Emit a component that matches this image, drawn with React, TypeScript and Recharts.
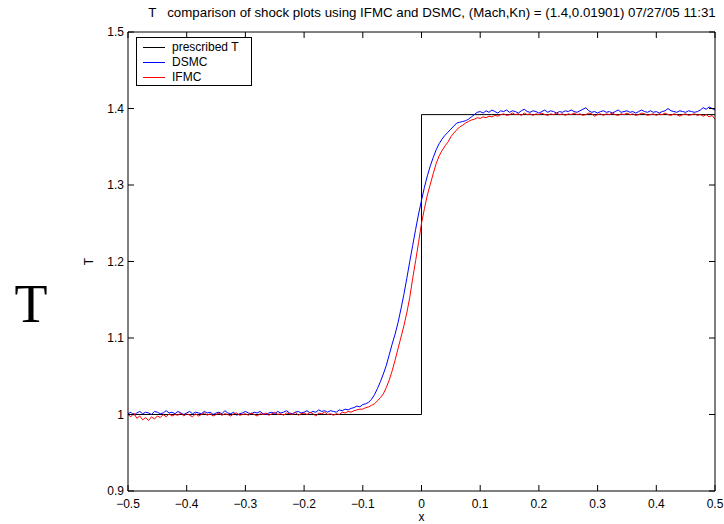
import { LineChart, Line, XAxis, YAxis } from 'recharts'

// sample spacing of the DSMC / IFMC profiles
const xStep = 0.005

const dsmcT = [
  1.001, 1.003, 0.999, 1.002, 1.004, 1.001, 1.003, 1.002, 1.000, 1.004,
  1.003, 1.001, 1.002, 1.005, 1.002, 1.003, 1.001, 1.004, 1.002, 1.000,
  1.002, 1.004, 1.001, 1.003, 1.002, 1.001, 1.004, 1.002, 1.003, 1.000,
  1.002, 1.003, 1.001, 1.005, 1.002, 1.001, 1.003, 0.999, 1.001, 1.002,
  1.004, 1.002, 1.001, 1.003, 1.002, 1.004, 1.001, 1.000, 1.002, 1.003,
  1.001, 1.004, 1.002, 1.003, 1.005, 1.002, 1.001, 1.003, 1.004, 1.002,
  1.003, 1.005, 1.002, 1.004, 1.003, 1.006, 1.004, 1.005, 1.003, 1.005,
  1.004, 1.003, 1.006, 1.005, 1.007, 1.006, 1.008, 1.009, 1.011, 1.010,
  1.013, 1.014, 1.016, 1.020, 1.026, 1.034, 1.043, 1.053, 1.064, 1.078,
  1.092, 1.105, 1.120, 1.138, 1.157, 1.178, 1.200, 1.221, 1.242, 1.262,
  1.280, 1.297, 1.312, 1.325, 1.336, 1.346, 1.354, 1.360, 1.365, 1.369,
  1.373, 1.377, 1.381, 1.382, 1.383, 1.384, 1.386, 1.389, 1.392, 1.395,
  1.396, 1.394,
  1.397, 1.395, 1.398, 1.396, 1.394, 1.397, 1.396, 1.398, 1.395, 1.397,
  1.396, 1.394, 1.397, 1.399, 1.396, 1.395, 1.397, 1.396, 1.394, 1.396,
  1.398, 1.395, 1.397, 1.396, 1.394, 1.396, 1.395, 1.397, 1.396, 1.398,
  1.396, 1.395, 1.397, 1.399, 1.401, 1.397, 1.395, 1.396, 1.394, 1.396,
  1.397, 1.395, 1.396, 1.394, 1.396, 1.398, 1.395, 1.396, 1.397, 1.395,
  1.396, 1.394, 1.396, 1.398, 1.396, 1.395, 1.397, 1.395, 1.396, 1.394,
  1.396, 1.397, 1.400, 1.397, 1.396, 1.395, 1.397, 1.396, 1.395, 1.397,
  1.396, 1.395, 1.396, 1.398, 1.401, 1.399, 1.402, 1.400, 1.398,
]

const ifmcT = [
  1.000, 0.997, 1.002, 0.995, 0.998, 0.993, 0.996, 0.992, 0.997, 0.994,
  0.998, 0.996, 1.000, 0.997, 1.001, 0.998, 1.000, 0.999, 1.002, 0.998,
  1.001, 0.999, 0.997, 1.001, 0.998, 1.000, 1.002, 0.999, 1.001, 0.998,
  1.000, 1.002, 0.999, 1.001, 1.000, 0.998, 1.001, 1.002, 0.999, 1.000,
  1.001, 0.999, 1.002, 1.000, 0.998, 1.001, 1.000, 1.002, 0.999, 1.001,
  1.003, 1.000, 1.001, 0.999, 1.002, 1.001, 1.000, 1.003, 0.999, 1.001,
  1.002, 1.000, 1.003, 1.001, 0.998, 1.002, 1.001, 1.003, 1.000, 1.001,
  0.999, 1.001, 1.000, 1.003, 1.002, 1.004, 1.003, 1.005, 1.006, 1.007,
  1.007, 1.009, 1.010, 1.012, 1.014, 1.018, 1.022, 1.027, 1.035, 1.045,
  1.057, 1.071, 1.086, 1.101, 1.116, 1.133, 1.153, 1.178, 1.201, 1.225,
  1.250, 1.269, 1.287, 1.301, 1.315, 1.328, 1.338, 1.345, 1.351, 1.356,
  1.363, 1.368, 1.372, 1.376, 1.378, 1.381, 1.383, 1.385, 1.386, 1.388,
  1.387, 1.389,
  1.388, 1.390, 1.389, 1.391, 1.390, 1.392, 1.393, 1.391, 1.392, 1.394,
  1.392, 1.393, 1.391, 1.394, 1.392, 1.393, 1.391, 1.393, 1.392, 1.394,
  1.392, 1.391, 1.393, 1.392, 1.394, 1.392, 1.393, 1.391, 1.393, 1.392,
  1.394, 1.392, 1.393, 1.391, 1.392, 1.394, 1.393, 1.390, 1.392, 1.393,
  1.391, 1.393, 1.392, 1.394, 1.392, 1.391, 1.393, 1.392, 1.394, 1.392,
  1.393, 1.391, 1.392, 1.394, 1.393, 1.391, 1.392, 1.393, 1.391, 1.393,
  1.392, 1.394, 1.392, 1.391, 1.393, 1.392, 1.390, 1.392, 1.393, 1.391,
  1.392, 1.393, 1.391, 1.392, 1.390, 1.392, 1.389, 1.391, 1.386,
]

const prescribedX = [-0.5, 0, 0, 0.5]
const prescribedT = [1, 1, 1.392, 1.392]

const xTicks = [-0.5, -0.4, -0.3, -0.2, -0.1, 0, 0.1, 0.2, 0.3, 0.4, 0.5]
const yTicks = [0.9, 1, 1.1, 1.2, 1.3, 1.4, 1.5]

const shockData = dsmcT.map((d, i) => ({
  x: Math.round((-0.5 + i * xStep) * 1000) / 1000,
  dsmc: d,
  ifmc: ifmcT[i],
}))
const prescribedData = prescribedX.map((x, i) => ({ x, t: prescribedT[i] }))

const FONT = '"Liberation Sans", Arial, Helvetica, sans-serif'
const fmt = (v: number) => (v < 0 ? '\u2212' + Math.abs(v) : String(v))

const BottomTick = ({ x, y, payload }: any) => (
  <g>
    <line x1={x} x2={x} y1={y} y2={y - 6} stroke="#000" />
    <text x={x} y={y + 17} textAnchor="middle" fontSize={12} fill="#000" fontFamily={FONT}>
      {fmt(payload.value)}
    </text>
  </g>
)
const TopTick = ({ x, y }: any) => <line x1={x} x2={x} y1={y} y2={y + 6} stroke="#000" />
const LeftTick = ({ x, y, payload }: any) => (
  <g>
    <line x1={x} x2={x + 6} y1={y} y2={y} stroke="#000" />
    <text x={x - 4} y={y + 4} textAnchor="end" fontSize={12} fill="#000" fontFamily={FONT}>
      {fmt(payload.value)}
    </text>
  </g>
)
const RightTick = ({ x, y }: any) => <line x1={x} x2={x - 6} y1={y} y2={y} stroke="#000" />

const legendItems = [
  { name: 'prescribed T', color: '#000000' },
  { name: 'DSMC', color: '#0000ff' },
  { name: 'IFMC', color: '#ff0000' },
]

export default function App() {
  return (
    <div style={{ position: 'absolute', left: 0, top: 0, width: 724, height: 524, background: '#fff', fontFamily: FONT }}>
      <LineChart width={724} height={524} margin={{ top: 31, right: 8, bottom: 0, left: 0 }}>
        <XAxis
          xAxisId="b"
          dataKey="x"
          type="number"
          domain={[-0.5, 0.5]}
          ticks={xTicks}
          interval={0}
          allowDataOverflow
          height={33}
          tickSize={0}
          tickMargin={0}
          tickLine={false}
          tick={<BottomTick />}
          axisLine={{ stroke: '#000' }}
          label={({ viewBox }: any) => (
            <text x={viewBox.x + viewBox.width / 2} y={521} textAnchor="middle" fontSize={12} fontFamily={FONT}>x</text>
          )}
        />
        <XAxis
          xAxisId="t"
          orientation="top"
          dataKey="x"
          type="number"
          domain={[-0.5, 0.5]}
          ticks={xTicks}
          interval={0}
          allowDataOverflow
          height={1}
          tickSize={0}
          tickMargin={0}
          tickLine={false}
          tick={<TopTick />}
          axisLine={{ stroke: '#000' }}
        />
        <YAxis
          yAxisId="l"
          type="number"
          domain={[0.9, 1.5]}
          ticks={yTicks}
          interval={0}
          allowDataOverflow
          width={128}
          tickSize={0}
          tickMargin={0}
          tickLine={false}
          tick={<LeftTick />}
          axisLine={{ stroke: '#000' }}
          label={({ viewBox }: any) => (
            <text
              x={93}
              y={viewBox.y + viewBox.height / 2}
              transform={`rotate(-90 93 ${viewBox.y + viewBox.height / 2})`}
              textAnchor="middle"
              fontSize={12}
              fontFamily={FONT}
            >
              T
            </text>
          )}
        />
        <YAxis
          yAxisId="r"
          orientation="right"
          type="number"
          domain={[0.9, 1.5]}
          ticks={yTicks}
          interval={0}
          allowDataOverflow
          width={1}
          tickSize={0}
          tickMargin={0}
          tickLine={false}
          tick={<RightTick />}
          axisLine={{ stroke: '#000' }}
        />
        {/* invisible series so the top/right frame axes get drawn */}
        <Line
          xAxisId="t"
          yAxisId="r"
          data={prescribedData}
          dataKey="t"
          stroke="none"
          dot={false}
          isAnimationActive={false}
        />
        <Line
          xAxisId="b"
          yAxisId="l"
          data={prescribedData}
          dataKey="t"
          type="linear"
          stroke="#000"
          strokeWidth={1}
          dot={false}
          isAnimationActive={false}
        />
        <Line
          xAxisId="b"
          yAxisId="l"
          data={shockData}
          dataKey="dsmc"
          type="linear"
          stroke="#0000ff"
          strokeWidth={1}
          dot={false}
          isAnimationActive={false}
        />
        <Line
          xAxisId="b"
          yAxisId="l"
          data={shockData}
          dataKey="ifmc"
          type="linear"
          stroke="#ff0000"
          strokeWidth={1}
          dot={false}
          isAnimationActive={false}
        />
      </LineChart>

      <svg width={724} height={524} style={{ position: 'absolute', left: 0, top: 0, pointerEvents: 'none' }}>
        <text x={432} y={17} textAnchor="middle" fontSize={13.3} fontFamily={FONT} style={{ whiteSpace: 'pre' }}>
          {'T   comparison of shock plots using IFMC and DSMC, (Mach,Kn) = (1.4,0.01901) 07/27/05 11:31'}
        </text>
        <text x={31} y={322} textAnchor="middle" fontSize={54} fontFamily={'"Liberation Serif", "Times New Roman", serif'}>
          T
        </text>
      </svg>

      <div
        style={{
          position: 'absolute',
          left: 136,
          top: 37,
          width: 116,
          height: 49,
          boxSizing: 'border-box',
          border: '1px solid #000',
          background: '#fff',
          paddingTop: 2,
        }}
      >
        {legendItems.map((it) => (
          <div key={it.name} style={{ display: 'flex', alignItems: 'center', height: 15, fontSize: 12, lineHeight: '15px' }}>
            <span style={{ display: 'inline-block', width: 22, height: 1, background: it.color, marginLeft: 6, marginRight: 7 }} />
            <span>{it.name}</span>
          </div>
        ))}
      </div>
    </div>
  )
}
